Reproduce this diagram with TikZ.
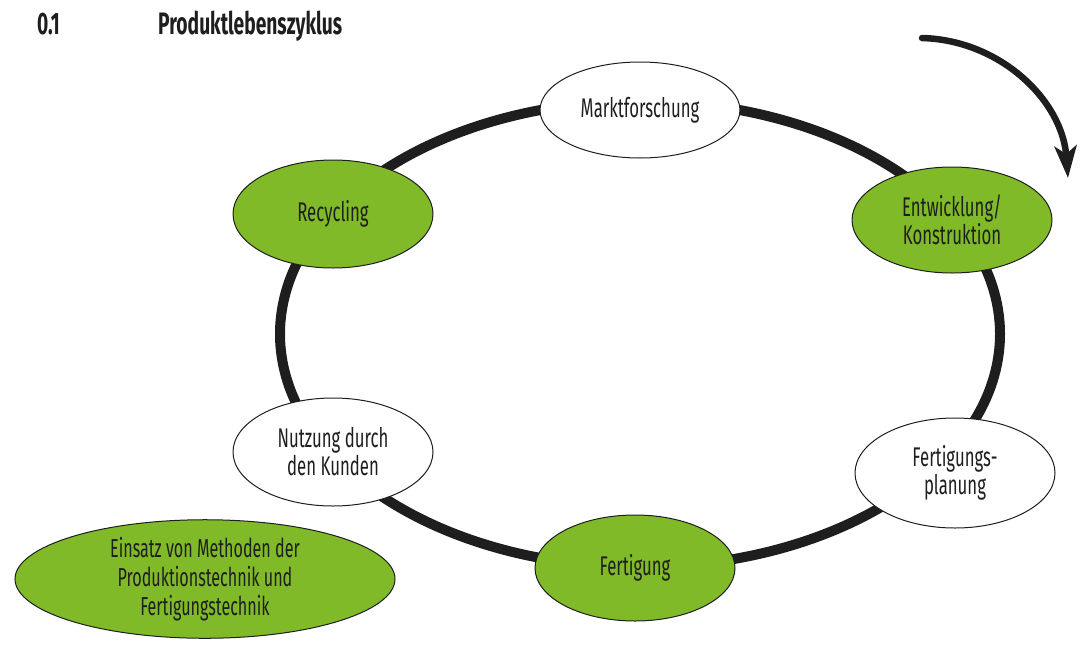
\documentclass[tikz,border=0pt]{standalone}
\usepackage{fontspec}
\setmainfont{Fira Sans}[FakeStretch=0.62]
\usetikzlibrary{shapes.geometric,arrows.meta}
\definecolor{lgreen}{RGB}{128,186,40}
\definecolor{ink}{RGB}{30,30,30}
\tikzset{
  stage/.style={ellipse, draw=ink, line width=1pt, inner sep=0pt, align=center,
    font=\fontsize{27}{28}\selectfont, text=ink, fill=white,
    minimum width=200pt, minimum height=104pt},
  greenstage/.style={stage, fill=lgreen},
  ring/.style={draw=ink, line width=10pt},
  cyclearrow/.style={draw=ink, line width=6.5pt, line cap=round,
    -{Stealth[length=32pt,width=22pt,inset=8pt]}},
  titletext/.style={anchor=base west, inner sep=0pt, text=ink,
    font=\fontsize{31}{32}\selectfont\bfseries}
}
\begin{document}
\begin{tikzpicture}[x=1pt,y=-1pt]
\useasboundingbox (0,0) rectangle (1092,646);
% title
\node[titletext] (num) at (37,34) {0.1};
\node[titletext] (title) at (158,34) {Produktlebenszyklus};
% ring
\draw[ring] (640,334) ellipse [x radius=360, y radius=233];
% stages
\node[stage, minimum height=96pt] (markt) at (640,110) {Marktforschung};
\node[greenstage, minimum height=106pt] (entw) at (952,220) {Entwicklung/\\Konstruktion};
\node[stage, minimum height=110pt] (fplan) at (955,473) {Fertigungs-\\planung};
\node[greenstage, minimum height=106pt] (fert) at (635,568) {Fertigung};
\node[stage, minimum height=108pt] (nutz) at (333,452) {Nutzung durch\\den Kunden};
\node[greenstage, minimum height=108pt] (recy) at (333,214) {Recycling};
\node[greenstage, minimum width=380pt, minimum height=112pt,
  font=\fontsize{26}{29}\selectfont] (einsatz) at (205,579)
  {Einsatz von Methoden der\\Produktionstechnik und\\Fertigungstechnik};
% direction arrow
\coordinate (arrstart) at (922,38);
\coordinate (arrend) at (1068,178);
\draw[cyclearrow] (arrstart) .. controls (1000,40) and (1062,100) .. (arrend);
\end{tikzpicture}
\end{document}
